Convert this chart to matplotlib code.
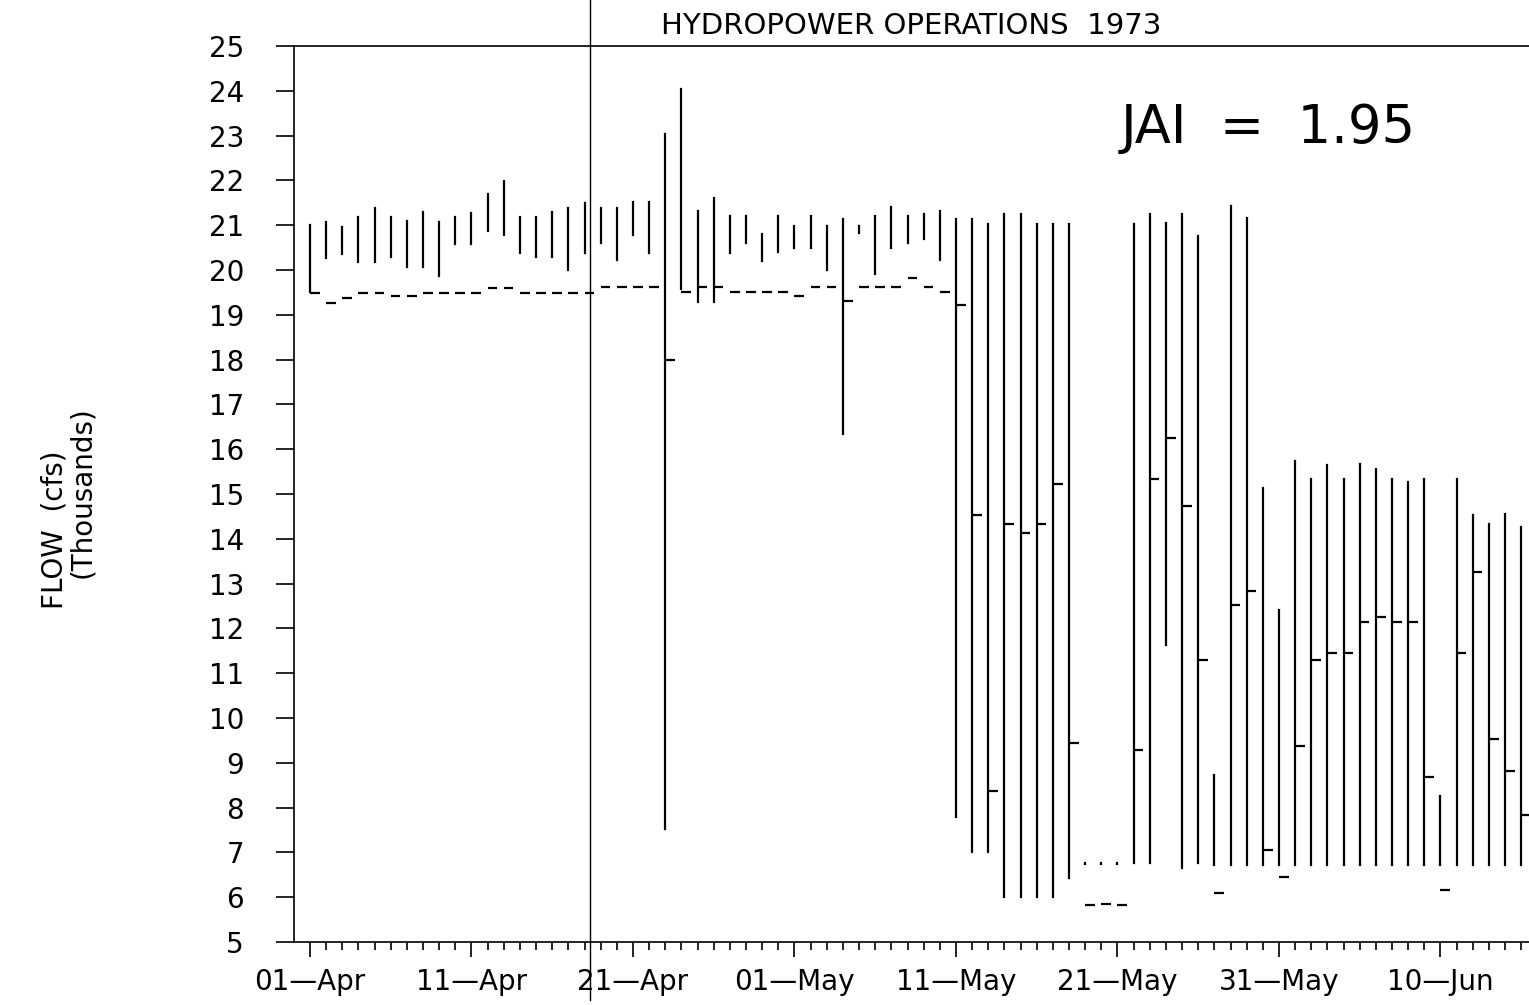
import numpy as np
import matplotlib.pyplot as plt
from matplotlib.ticker import MultipleLocator, FixedLocator

# dagar från 01-Apr 1973
dag = np.arange(76)

hog = [21.00, 21.07, 20.97, 21.19, 21.39, 21.19, 21.10, 21.30, 21.08, 21.19,
       21.28, 21.69, 21.99, 21.19, 21.19, 21.30, 21.38, 21.49, 21.39, 21.39,
       21.51, 21.51, 23.03, 24.04, 21.31, 21.60, 21.21, 21.21, 20.80, 21.21,
       20.98, 21.21, 20.98, 21.13, 20.98, 21.21, 21.41, 21.21, 21.25, 21.32,
       21.13, 21.13, 21.02, 21.25, 21.25, 21.02, 21.02, 21.02, 6.77, 6.77,
       6.77, 21.02, 21.25, 21.04, 21.25, 20.75, 8.73, 21.43, 21.15, 15.14,
       12.42, 15.73, 15.34, 15.64, 15.34, 15.66, 15.55, 15.34, 15.27, 15.34,
       8.25, 15.34, 14.54, 14.34, 14.56, 14.26]

lag = [19.50, 20.26, 20.35, 20.18, 20.18, 20.28, 20.07, 20.07, 19.87, 20.59,
       20.59, 20.87, 20.78, 20.37, 20.28, 20.28, 19.99, 20.37, 20.61, 20.22,
       20.78, 20.39, 7.52, 19.58, 19.29, 19.29, 20.39, 20.61, 20.20, 20.40,
       20.50, 20.48, 20.00, 16.33, 20.82, 19.90, 20.50, 20.61, 20.70, 20.22,
       7.80, 7.00, 7.00, 6.01, 6.01, 6.01, 6.01, 6.42, 6.73, 6.73,
       6.73, 6.76, 6.76, 11.64, 6.65, 6.76, 6.72, 6.72, 6.72, 6.72,
       6.72, 6.72, 6.72, 6.72, 6.72, 6.72, 6.72, 6.72, 6.72, 6.72,
       6.72, 6.72, 6.72, 6.72, 6.72, 6.72]

medel = [19.48, 19.27, 19.38, 19.48, 19.48, 19.41, 19.41, 19.48, 19.48, 19.48,
         19.48, 19.59, 19.59, 19.48, 19.48, 19.48, 19.48, 19.48, 19.61, 19.61,
         19.61, 19.61, 18.00, 19.51, 19.61, 19.61, 19.50, 19.50, 19.50, 19.50,
         19.41, 19.61, 19.61, 19.31, 19.61, 19.61, 19.61, 19.83, 19.61, 19.50,
         19.21, 14.53, 8.36, 14.32, 14.13, 14.32, 15.22, 9.44, 5.83, 5.85,
         5.83, 9.29, 15.34, 16.24, 14.74, 11.30, 6.10, 12.53, 12.83, 7.06,
         6.44, 9.37, 11.30, 11.44, 11.44, 12.14, 12.25, 12.14, 12.14, 8.68,
         6.15, 11.44, 13.25, 9.53, 8.82, 7.84]

etikett_dag = [0, 10, 20, 30, 40, 50, 60, 70]
etiketter = ['01—Apr', '11—Apr', '21—Apr', '01—May', '11—May', '21—May',
             '31—May', '10—Jun']
y_ticks = np.arange(5, 26, 1)
markering_dag = 17.35

fig = plt.figure(figsize=(15.29, 10.05), dpi=100)
ax = fig.add_axes([294 / 1529, 63 / 1005, 1235 / 1529, 896 / 1005])

ax.vlines(dag, lag, hog, color='black', lw=1.6, capstyle='projecting')
ax.hlines(medel, dag, dag + 0.6, color='black', lw=1.6)

ax.axvline(markering_dag, ymin=-0.065, ymax=1.06, color='black', lw=1.0,
           clip_on=False)

ax.set_xlim(-0.99, 75.48)
ax.set_ylim(5, 25)

ax.xaxis.set_major_locator(FixedLocator(etikett_dag))
ax.set_xticklabels(etiketter)
ax.xaxis.set_minor_locator(MultipleLocator(1))
ax.set_yticks(y_ticks)
ax.set_yticklabels([str(v) for v in y_ticks])

ax.tick_params(axis='x', which='major', direction='out', length=11, width=1.2,
               pad=8, labelsize=20)
ax.tick_params(axis='x', which='minor', direction='out', length=6, width=1.2)
ax.tick_params(axis='y', direction='out', length=13, width=1.2, pad=23,
               labelsize=20)

for s in ['left', 'bottom', 'top']:
    ax.spines[s].set_linewidth(1.2)
ax.spines['right'].set_visible(False)

ax.set_title('HYDROPOWER OPERATIONS  1973', fontsize=21, pad=9)
ax.text(0.789, 0.909, 'JAI  =  1.95', transform=ax.transAxes, fontsize=38,
        ha='center', va='center')

fig.text(54 / 1529, 1 - 530 / 1005, 'FLOW  (cfs)', rotation=90, fontsize=20,
         ha='center', va='center')
fig.text(82 / 1529, 1 - 492 / 1005, '(Thousands)', rotation=90, fontsize=20,
         ha='center', va='center')

fig.savefig('out.png', dpi=100)
